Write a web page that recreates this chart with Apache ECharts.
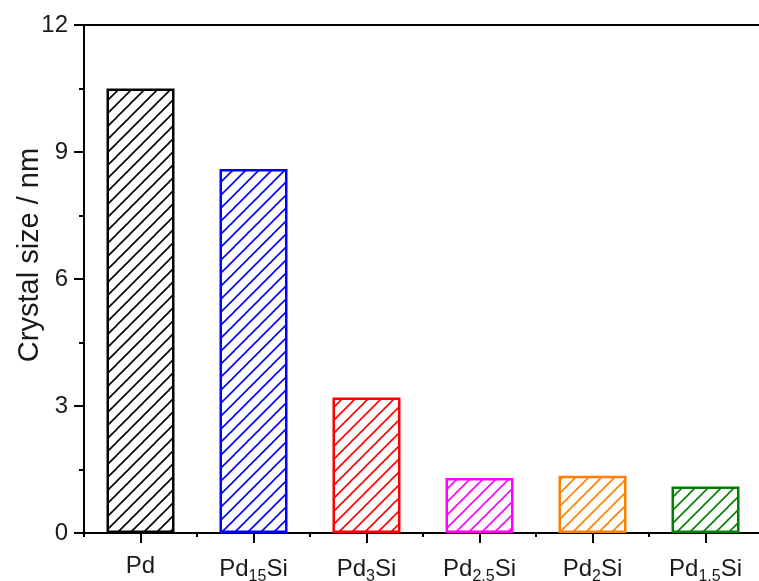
<!DOCTYPE html>
<html>
<head>
<meta charset="utf-8">
<script src="https://cdn.jsdelivr.net/npm/echarts@6/dist/echarts.min.js"></script>
<style>html,body{margin:0;padding:0;background:#fff}#c{width:759px;height:581px}</style>
</head>
<body>
<div id="c"></div>
<script>
var categories = ['Pd', 'Pd15Si', 'Pd3Si', 'Pd2.5Si', 'Pd2Si', 'Pd1.5Si'];
var crystalSize = [10.5, 8.6, 3.2, 1.3, 1.35, 1.1];
var barColors = ['#000000', '#0000ff', '#ff0000', '#ff00ff', '#ff8000', '#008000'];
var yTicks = [0, 3, 6, 9, 12];

function hatch(color) {
  var s = 13;
  var c = document.createElement('canvas');
  c.width = s; c.height = s;
  var g = c.getContext('2d');
  g.strokeStyle = color;
  g.lineWidth = 1.6;
  for (var k = -1; k <= 1; k++) {
    g.beginPath();
    g.moveTo(k * s - 1, s + 1);
    g.lineTo(k * s + s + 1, -1);
    g.stroke();
  }
  return c;
}

function fmt(v) {
  var m = v.match(/^Pd([\d.]*)Si$/);
  if (!m) return '{a|' + v + '}';
  if (m[1] === '') return '{a|PdSi}';
  return '{a|Pd}{s|' + m[1] + '}{a|Si}';
}

var chart = echarts.init(document.getElementById('c'), null, {renderer: 'canvas'});
var font = 'Liberation Sans, Arial, sans-serif';
chart.setOption({
  animation: false,
  grid: {left: 84, top: 25, right: -3, bottom: 48, containLabel: false, outerBoundsMode: 'none'},
  xAxis: [{
    type: 'category', data: categories, position: 'bottom',
    axisLine: {show: true, lineStyle: {color: '#000', width: 2}},
    axisTick: {show: true, alignWithLabel: true, length: 10, lineStyle: {color: '#000', width: 2}},
    axisLabel: {
      interval: 0, margin: 21, color: '#1a1a1a', formatter: fmt,
      rich: {
        a: {fontFamily: font, fontSize: 24, color: '#1a1a1a'},
        s: {fontFamily: font, fontSize: 16, color: '#1a1a1a', padding: [15, 0, 0, 0]}
      }
    }
  }, {
    type: 'category', data: categories, position: 'bottom', gridIndex: 0,
    axisLine: {show: false},
    axisTick: {show: true, interval: 0, alignWithLabel: false, length: 4, lineStyle: {color: '#000', width: 2}},
    axisLabel: {show: false}
  }, {
    type: 'category', data: categories, position: 'top',
    axisLine: {show: true, lineStyle: {color: '#000', width: 2}},
    axisTick: {show: false}, axisLabel: {show: false}
  }],
  yAxis: {
    type: 'value', min: 0, max: 12, interval: 3,
    name: 'Crystal size / nm', nameLocation: 'middle', nameGap: 40, nameMoveOverlap: false,
    nameTextStyle: {fontFamily: font, fontSize: 29, color: '#1a1a1a', padding: [0, 0, 0, 48]},
    axisLine: {show: true, lineStyle: {color: '#000', width: 2}},
    axisTick: {show: true, length: 10, lineStyle: {color: '#000', width: 2}},
    minorTick: {show: true, splitNumber: 2, length: 5, lineStyle: {color: '#000', width: 2}},
    splitLine: {show: false},
    axisLabel: {margin: 16, fontFamily: font, fontSize: 24, color: '#1a1a1a',
      formatter: function (v) { return yTicks.indexOf(v) >= 0 ? String(v) : ''; }}
  },
  series: [{
    type: 'bar', xAxisIndex: 0, barWidth: 68,
    data: crystalSize.map(function (v, i) {
      return {value: v, itemStyle: {color: {image: hatch(barColors[i]), repeat: 'repeat'}, borderColor: barColors[i], borderWidth: 2.5}};
    })
  }]
});
</script>
</body>
</html>
